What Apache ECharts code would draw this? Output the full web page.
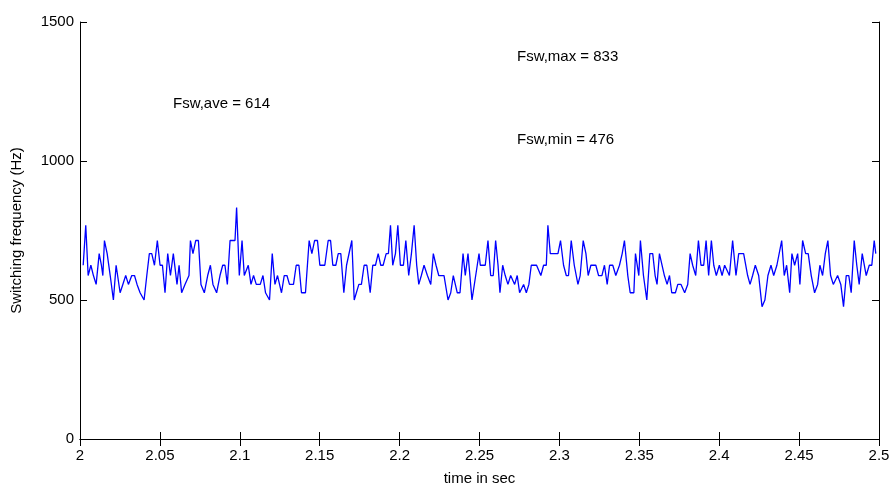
<!DOCTYPE html>
<html>
<head>
<meta charset="utf-8">
<script src="https://cdn.jsdelivr.net/npm/echarts@6/dist/echarts.min.js"></script>
<style>
  html, body { margin: 0; padding: 0; background: #fff; }
  #chart { width: 894px; height: 491px; }
</style>
</head>
<body>
<div id="chart"></div>
<script>
// switching instants (s)
const times = [
  2.0020, 2.0036, 2.0051, 2.0068, 2.0084, 2.0101, 2.0120, 2.0134, 2.0143, 2.0153,
  2.0170, 2.0189, 2.0209, 2.0226, 2.0251, 2.0268, 2.0286, 2.0303, 2.0324, 2.0341,
  2.0357, 2.0376, 2.0401, 2.0418, 2.0434, 2.0449, 2.0466, 2.0484, 2.0501, 2.0516,
  2.0532, 2.0549, 2.0566, 2.0584, 2.0607, 2.0620,
  2.0636, 2.0657, 2.0682, 2.0691, 2.0707, 2.0724, 2.0741, 2.0757, 2.0778, 2.0799,
  2.0816, 2.0832, 2.0855, 2.0876, 2.0893, 2.0907, 2.0922, 2.0939, 2.0970, 2.0980,
  2.0997, 2.1014, 2.1028, 2.1053, 2.1070, 2.1086, 2.1103, 2.1128, 2.1145, 2.1161,
  2.1186, 2.1203, 2.1220, 2.1236,
  2.1261, 2.1278, 2.1295, 2.1311, 2.1336, 2.1353, 2.1370, 2.1386, 2.1411, 2.1434,
  2.1451, 2.1468, 2.1486, 2.1501, 2.1532, 2.1553, 2.1568, 2.1582, 2.1601, 2.1616,
  2.1632, 2.1651, 2.1668, 2.1701, 2.1716, 2.1745, 2.1761, 2.1778, 2.1795, 2.1816,
  2.1832, 2.1849, 2.1866,
  2.1882, 2.1897, 2.1916, 2.1930, 2.1943, 2.1957, 2.1974, 2.1989, 2.2005, 2.2024,
  2.2039, 2.2057, 2.2074, 2.2091, 2.2107, 2.2120, 2.2136, 2.2153, 2.2174, 2.2195,
  2.2211, 2.2228, 2.2245, 2.2278, 2.2303, 2.2320, 2.2336, 2.2361, 2.2378, 2.2397,
  2.2411, 2.2428, 2.2453, 2.2486,
  2.2497, 2.2505, 2.2536, 2.2553, 2.2570, 2.2586, 2.2601, 2.2616, 2.2628, 2.2645,
  2.2661, 2.2678, 2.2695, 2.2720, 2.2736, 2.2751, 2.2776, 2.2793, 2.2809, 2.2824,
  2.2857, 2.2884, 2.2901, 2.2918, 2.2928, 2.2943, 2.2991, 2.3007, 2.3026, 2.3043,
  2.3057, 2.3074, 2.3093, 2.3116,
  2.3130, 2.3149, 2.3166, 2.3180, 2.3197, 2.3228, 2.3245, 2.3266, 2.3282, 2.3299,
  2.3314, 2.3334, 2.3353, 2.3376, 2.3393, 2.3407, 2.3428, 2.3443, 2.3466, 2.3476,
  2.3497, 2.3507, 2.3526, 2.3547, 2.3566, 2.3584, 2.3599, 2.3611, 2.3626, 2.3657,
  2.3674, 2.3689, 2.3703, 2.3726, 2.3741,
  2.3761, 2.3784, 2.3803, 2.3818, 2.3834, 2.3853, 2.3870, 2.3886, 2.3903, 2.3918,
  2.3934, 2.3951, 2.3966, 2.3982, 2.4001, 2.4018, 2.4034, 2.4064, 2.4084, 2.4105,
  2.4122, 2.4153, 2.4178, 2.4193, 2.4209, 2.4226, 2.4247, 2.4268, 2.4286, 2.4305,
  2.4324, 2.4341, 2.4361,
  2.4391, 2.4407, 2.4422, 2.4441, 2.4455, 2.4472, 2.4491, 2.4505, 2.4522, 2.4541,
  2.4557, 2.4576, 2.4597, 2.4616, 2.4630, 2.4647, 2.4664, 2.4680, 2.4697, 2.4714,
  2.4741, 2.4761, 2.4778, 2.4795, 2.4811, 2.4826, 2.4845, 2.4861, 2.4876, 2.4895,
  2.4920, 2.4939, 2.4955, 2.4970, 2.4980
]

// switching frequency (Hz) at each instant
const fsw = [
  625, 769, 588, 625, 588, 556, 667, 625, 588, 714,
  667, 588, 500, 625, 526, 556, 588, 556, 588, 588,
  556, 526, 500, 588, 667, 667, 625, 714, 625, 625,
  526, 667, 588, 667, 556, 625,
  526, 556, 588, 714, 667, 714, 714, 556, 526, 588,
  625, 556, 526, 588, 625, 625, 556, 714, 714, 833,
  588, 714, 588, 625, 556, 588, 556, 556, 588, 526,
  500, 667, 556, 588,
  526, 588, 588, 556, 556, 625, 625, 526, 526, 714,
  667, 714, 714, 625, 625, 714, 714, 625, 625, 667,
  667, 526, 625, 714, 500, 556, 556, 625, 625, 526,
  625, 625, 667,
  625, 625, 667, 667, 769, 625, 667, 769, 625, 625,
  714, 588, 667, 769, 625, 556, 588, 625, 588, 556,
  667, 625, 588, 588, 500, 526, 588, 526, 526, 667,
  588, 667, 500, 625,
  667, 625, 625, 714, 588, 588, 714, 625, 526, 625,
  588, 556, 588, 556, 588, 526, 556, 526, 556, 625,
  625, 588, 625, 625, 769, 667, 667, 714, 625, 588,
  588, 714, 625, 556,
  588, 714, 667, 588, 625, 625, 588, 588, 625, 556,
  625, 625, 588, 625, 667, 714, 588, 526, 526, 667,
  588, 714, 588, 500, 667, 667, 588, 556, 667, 588,
  556, 588, 526, 526, 556,
  556, 526, 556, 667, 625, 588, 714, 625, 625, 714,
  588, 714, 625, 588, 625, 588, 625, 588, 714, 588,
  667, 667, 588, 556, 588, 625, 588, 476, 500, 588,
  625, 588, 625,
  714, 588, 625, 526, 667, 625, 667, 556, 714, 667,
  667, 588, 526, 556, 625, 588, 667, 714, 588, 556,
  588, 556, 476, 588, 588, 526, 714, 625, 556, 667,
  588, 625, 625, 714, 667
]

const notes = [
  { text: 'Fsw,max = 833', left: 517, top: 49 },
  { text: 'Fsw,ave = 614', left: 173, top: 96 },
  { text: 'Fsw,min = 476', left: 517, top: 132 }
]

const chart = echarts.init(document.getElementById('chart'))
const font = 'Liberation Sans, Arial, sans-serif'

const xBase = {
  type: 'value',
  min: 2,
  max: 2.5,
  interval: 0.05,
  splitLine: { show: false },
  axisLine: { lineStyle: { color: '#000', width: 1 } },
  axisTick: { inside: true, length: 7, lineStyle: { color: '#000' } }
}
const yBase = {
  type: 'value',
  min: 0,
  max: 1500,
  interval: 500,
  splitLine: { show: false },
  axisLine: { show: true, lineStyle: { color: '#000', width: 1 } },
  axisTick: { show: true, inside: true, length: 7, lineStyle: { color: '#000' } }
}

chart.setOption({
  animation: false,
  backgroundColor: '#fff',
  textStyle: { fontFamily: font },
  grid: { left: 80, right: 15, top: 22, bottom: 48, containLabel: false },
  xAxis: [
    {
      ...xBase,
      position: 'bottom',
      name: 'time in sec',
      nameLocation: 'middle',
      nameGap: 32,
      nameTextStyle: { color: '#000', fontSize: 15, fontFamily: font },
      axisLabel: {
        color: '#000', fontSize: 15, fontFamily: font, margin: 9,
        showMinLabel: true, showMaxLabel: true,
        formatter: v => String(+v.toFixed(2))
      }
    },
    { ...xBase, position: 'top', axisLabel: { show: false } }
  ],
  yAxis: [
    {
      ...yBase,
      position: 'left',
      name: 'Switching frequency (Hz)',
      nameLocation: 'middle',
      nameGap: 56,
      nameTextStyle: { color: '#000', fontSize: 15, fontFamily: font },
      axisLabel: {
        color: '#000', fontSize: 15, fontFamily: font, margin: 6,
        formatter: v => String(v)
      }
    },
    { ...yBase, position: 'right', axisLabel: { show: false } }
  ],
  series: [
    {
      type: 'line',
      data: times.map((t, i) => [t, fsw[i]]),
      showSymbol: false,
      symbol: 'none',
      lineStyle: { color: '#0000ff', width: 1.3 },
      itemStyle: { color: '#0000ff' }
    }
  ],
  graphic: notes.map(n => ({
    type: 'text',
    left: n.left,
    top: n.top,
    style: { text: n.text, fill: '#000', font: '15px ' + font }
  }))
})
</script>
</body>
</html>
